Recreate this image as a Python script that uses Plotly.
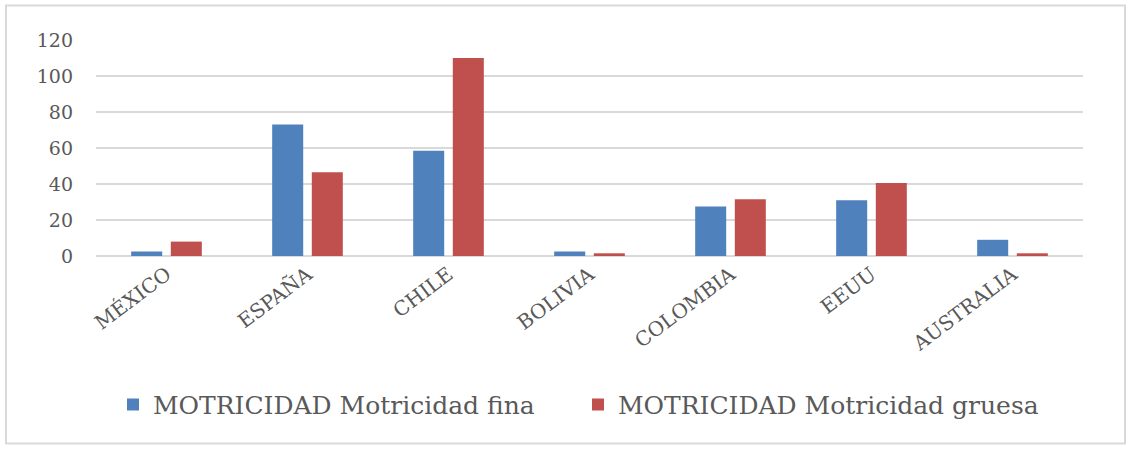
import plotly.graph_objects as go

countries = ["MÉXICO", "ESPAÑA", "CHILE", "BOLIVIA", "COLOMBIA", "EEUU", "AUSTRALIA"]
fina = [2.5, 73, 58.5, 2.5, 27.5, 31, 9]
gruesa = [8, 46.5, 110, 1.5, 31.5, 40.5, 1.5]
y_ticks = [0, 20, 40, 60, 80, 100, 120]

FONT = "DejaVu Serif"
W, H = 1130, 449
L, R, T, B = 96, 47, 39.5, 193
pw, ph = W - L - R, H - T - B

fig = go.Figure()
fig.add_trace(go.Bar(x=countries, y=fina, name="MOTRICIDAD Motricidad fina",
                     marker=dict(color="#4F81BD", line=dict(width=0))))
fig.add_trace(go.Bar(x=countries, y=gruesa, name="MOTRICIDAD Motricidad gruesa",
                     marker=dict(color="#C0504D", line=dict(width=0))))

fig.update_layout(
    width=W, height=H,
    margin=dict(l=L, r=R, t=T, b=B, autoexpand=False),
    paper_bgcolor="white", plot_bgcolor="white",
    barmode="group", bargap=0.438, bargroupgap=0.217,
    font=dict(family=FONT, color="#595959", size=19),
    showlegend=True,
    legend=dict(orientation="h", x=(113 - L) / pw, xanchor="left", y=(256 - 405) / ph, yanchor="middle",
                font=dict(family=FONT, size=25, color="#595959"),
                entrywidth=420, entrywidthmode="pixels", itemwidth=30,
                bgcolor="rgba(0,0,0,0)"),
    xaxis=dict(tickangle=-37, showgrid=False, showline=False, ticks="",
               tickfont=dict(family=FONT, size=20, color="#595959"), ticklabelstandoff=2),
    yaxis=dict(range=[0, 120], tickvals=y_ticks, showgrid=True, gridcolor="#D9D9D9", gridwidth=1.5,
               zeroline=True, zerolinecolor="#D9D9D9", zerolinewidth=1.5, showline=False, ticks="",
               tickfont=dict(family=FONT, size=19, color="#595959"), ticklabelstandoff=22),
)

fig.add_shape(type="rect", xref="paper", yref="paper",
              x0=(6 - L) / pw, x1=(1125 - L) / pw, y0=(256 - 444) / ph, y1=(256 - 5) / ph,
              line=dict(color="#D9D9D9", width=2), fillcolor="rgba(0,0,0,0)", layer="below")

fig.write_html("out.html", config={"displayModeBar": False},
               post_script="document.body.style.margin='0';")
